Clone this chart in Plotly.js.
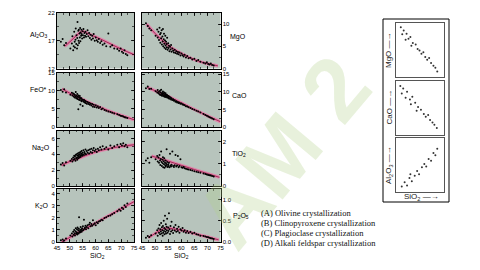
<!DOCTYPE html>
<html>
<head>
<meta charset="utf-8">
<script src="https://cdn.plot.ly/plotly-3.0.1.min.js"></script>
<style>html,body{margin:0;padding:0;background:#fff;}#chart{width:480px;height:270px;}</style>
</head>
<body>
<div id="chart"></div>
<script>
// ---- Sample data (SiO2 shared by all oxides, wt%) ----
const sio2 = [46.5,47.2,47.8,48.5,
  50.2,50.8,51.0,51.3,51.5,51.7,51.9,52.0,52.2,52.3,52.5,52.6,52.8,52.9,53.0,53.1,53.3,53.4,53.5,53.6,53.8,53.9,54.0,54.1,54.2,54.4,54.5,54.6,54.8,55.0,55.1,55.3,55.5,55.7,55.9,56.1,56.3,56.6,56.9,
  57.2,57.5,57.8,58.1,58.4,58.7,59.0,59.3,59.7,60.1,60.5,60.9,61.3,61.8,62.3,62.8,
  63.5,64.2,65.0,65.8,66.5,67.3,
  68.5,69.2,69.8,70.3,70.8,71.3,71.8,72.4];
const al2o3 = [16.8,17.3,16.2,16.6,
  15.6,16.5,17.8,15.3,16.0,18.6,16.8,15.8,17.2,19.2,16.4,18.0,15.6,17.5,20.4,16.2,18.8,17.0,19.0,16.6,18.3,17.6,19.3,16.9,18.5,17.9,19.0,18.2,17.4,18.7,18.0,19.1,17.6,18.4,17.9,18.6,17.7,18.2,18.9,
  17.8,18.4,17.5,18.1,17.2,17.9,17.4,18.2,17.0,17.6,17.1,16.8,17.3,16.6,16.9,16.3,
  16.5,16.0,18.3,15.9,16.2,15.6,
  15.5,15.2,15.6,15.0,14.8,15.3,14.6,14.4];
const mgo = [10.2,9.6,9.0,8.6,
  7.4,8.8,7.0,8.3,6.4,9.2,7.7,5.8,8.0,6.8,8.6,5.4,7.2,6.1,8.9,5.0,6.6,7.8,5.6,4.7,6.3,7.4,5.2,4.4,6.0,5.5,4.8,6.9,4.2,5.7,4.6,5.1,3.9,4.9,4.3,5.3,3.8,4.5,4.0,
  3.6,4.2,3.5,3.9,3.3,3.7,3.2,3.6,2.9,3.4,3.0,2.7,3.1,2.5,2.8,2.3,
  2.4,2.0,2.2,1.7,1.9,1.5,
  1.3,1.1,1.4,1.0,0.9,1.1,0.8,0.7];
const feo = [10.2,9.7,10.4,9.5,
  8.9,9.4,8.7,9.2,8.4,9.0,8.1,8.8,8.3,9.6,7.9,8.6,8.0,9.1,7.7,8.4,4.9,8.7,7.6,8.2,7.4,8.5,7.8,6.2,8.0,7.3,7.9,7.1,7.6,5.8,7.4,7.0,7.5,6.8,7.2,6.6,7.0,6.4,6.9,
  6.3,6.7,6.1,6.5,5.9,6.3,5.6,6.1,5.5,6.0,5.4,5.7,5.2,5.5,4.9,5.1,
  4.7,4.5,4.3,4.1,3.9,3.7,
  3.5,3.3,3.1,3.0,2.9,2.7,2.6,2.5];
const cao = [11.0,11.5,10.8,10.9,
  10.2,9.8,10.5,9.6,10.0,9.3,10.3,9.1,9.8,10.6,9.4,8.9,9.7,9.2,10.1,8.8,9.5,9.0,9.8,8.6,9.3,8.9,9.6,8.5,9.1,8.7,9.2,8.4,8.9,8.3,8.8,8.1,8.6,8.0,8.4,7.8,8.2,7.7,7.9,
  7.5,7.6,7.2,7.3,7.0,7.1,6.8,6.9,6.6,6.7,6.4,6.3,6.2,5.9,5.8,5.6,
  5.4,5.1,4.9,4.6,4.4,4.1,
  3.7,3.4,3.2,3.0,2.8,2.6,2.4,2.2];
const na2o = [2.7,2.9,2.6,3.0,
  3.2,3.4,3.1,3.6,3.3,3.8,3.4,3.7,3.2,3.9,3.5,4.0,3.6,3.3,3.8,4.1,3.5,3.9,3.7,4.2,3.6,4.0,3.8,4.3,3.7,4.1,3.9,4.4,3.8,4.2,4.0,4.5,3.9,4.3,4.1,4.6,4.0,4.4,4.2,
  4.5,4.1,4.6,4.3,4.7,4.2,4.5,4.8,4.4,4.6,4.3,4.7,4.5,4.9,4.6,5.0,
  4.7,4.9,4.6,5.1,4.8,5.0,
  5.2,4.9,5.3,5.1,5.4,5.0,5.2,4.9];
const tio2 = [1.15,1.25,1.05,1.30,
  1.20,1.35,1.10,1.28,1.05,1.40,1.15,0.95,1.22,1.55,1.08,0.90,1.18,1.02,1.30,0.85,1.12,0.98,1.25,0.82,1.05,0.92,1.15,0.88,1.00,1.65,0.95,1.08,0.86,0.98,0.90,1.05,0.84,1.45,0.92,0.88,0.96,1.55,0.90,
  0.86,0.94,1.40,0.88,0.92,1.35,0.85,0.90,1.20,0.84,0.82,0.86,0.80,0.78,0.76,0.74,
  0.72,0.70,0.67,0.64,0.62,0.60,
  0.56,0.54,0.52,0.50,0.48,0.47,0.45,0.43];
const k2o = [0.15,0.20,0.12,0.30,
  0.55,0.70,0.45,0.85,0.60,1.00,0.72,0.55,0.90,1.15,0.68,0.80,1.05,0.62,1.20,0.75,0.95,0.70,1.10,2.05,0.88,0.78,1.00,0.82,1.25,0.92,1.05,0.85,1.15,0.95,1.30,1.00,1.85,1.10,1.20,1.35,1.05,1.25,1.40,
  1.15,1.45,1.60,1.30,1.50,1.35,1.80,1.45,1.55,1.40,1.65,1.55,1.70,1.75,1.85,1.80,
  2.00,2.05,2.15,2.20,2.30,2.40,
  2.55,2.70,2.60,2.85,2.75,3.05,2.90,3.20];
const p2o5 = [0.10,0.14,0.12,0.16,
  0.20,0.28,0.15,0.32,0.22,0.40,0.18,0.30,0.25,0.45,0.20,0.35,0.28,0.15,0.38,0.22,0.50,0.26,0.33,0.18,0.62,0.30,0.24,0.42,0.20,0.36,0.28,0.55,0.22,0.34,0.26,0.68,0.30,0.19,0.38,0.25,0.48,0.28,0.21,
  0.35,0.27,0.40,0.24,0.31,0.26,0.36,0.22,0.30,0.27,0.33,0.24,0.28,0.22,0.26,0.21,
  0.24,0.20,0.22,0.18,0.17,0.15,
  0.14,0.13,0.12,0.11,0.10,0.09,0.08,0.07];

// ---- Fractionation trend curves ----
const al2o3TrendX = [48,50,52,54,55,58,62,66,70,75];
const al2o3TrendY = [16.0,16.8,17.7,18.5,18.7,18.1,17.3,16.4,15.5,14.5];
const mgoTrendX = [46.8,50,55,60,65,70,74];
const mgoTrendY = [10.0,7.9,5.2,3.4,2.0,1.1,0.6];
const feoTrendX = [47,50,55,60,65,70,75];
const feoTrendY = [10.5,9.3,7.6,5.9,4.5,3.2,2.0];
const caoTrendX = [47,50,55,60,65,70,75];
const caoTrendY = [11.3,10.3,8.7,6.9,5.0,3.2,1.5];
const na2oTrendX = [46.8,50,55,60,65,70,75];
const na2oTrendY = [2.6,3.1,3.7,4.3,4.7,5.0,5.2];
const tio2TrendX = [48.7,55,60,65,70,74.6];
const tio2TrendY = [1.35,1.12,0.93,0.74,0.56,0.39];
const k2oTrendX = [46.8,50,55,60,65,70,75];
const k2oTrendY = [0,0.38,0.98,1.57,2.17,2.76,3.35];
const p2o5TrendX = [47.4,50,52,54.5,57,60,65,70,74.3];
const p2o5TrendY = [0.10,0.20,0.28,0.33,0.31,0.28,0.20,0.12,0.05];

// ---- Inset schematic data ----
const insetMgOX = [1.0,1.6,1.3,2.2,2.6,2.0,3.0,3.5,3.2,4.1,4.5,4.9,5.3,5.7,6.1,6.5,6.9,7.3,7.8,8.2,8.6];
const insetMgOY = [9.2,8.6,7.9,8.0,7.1,6.9,7.4,6.3,5.8,6.0,5.2,4.9,4.3,4.6,3.7,3.2,3.5,2.6,2.1,1.7,1.0];
const insetCaOX = [0.9,1.5,1.2,2.3,2.0,2.9,3.4,3.1,4.0,4.6,4.3,5.2,5.8,6.2,6.7,7.1,7.6,8.0,8.5];
const insetCaOY = [9.0,8.5,7.6,7.9,6.8,6.5,7.0,5.6,5.9,5.1,4.4,4.6,3.8,3.3,3.6,2.7,2.2,1.8,1.2];
const insetAlX = [1.2,1.8,2.3,2.8,3.3,3.0,3.9,4.4,4.8,5.4,5.9,6.3,6.8,7.3,7.8,8.2,8.6];
const insetAlY = [1.0,1.8,1.2,2.6,2.0,3.3,3.0,3.9,3.3,4.6,5.2,4.7,6.1,5.8,7.2,6.8,8.0];

const xTicks = [45,50,55,60,65,70,75];
const options = [
  "(A) Olivine crystallization",
  "(B) Clinopyroxene crystallization",
  "(C) Plagioclase crystallization",
  "(D) Alkali feldspar crystallization"
];

// ---- Layout helpers ----
const W = 480, H = 270;
const PX = x => x / W;
const PY = y => 1 - y / H;
const cols = [[57,134],[142,220.5]];
const rows = [[13,68.5],[72.5,127],[130.5,186],[189,242]];
const FONT = "Liberation Sans, Arial, sans-serif";

const panels = [
  {y: al2o3, tx: al2o3TrendX, ty: al2o3TrendY, c:0, r:0, range:[12,22], tv:[12,17,22], mt0:12, md:2.5, title:"Al<sub>2</sub>O<sub>3</sub>", tpos:[38,35]},
  {y: mgo, tx: mgoTrendX, ty: mgoTrendY, c:1, r:0, range:[0,12.5], tv:[0,5,10], mt0:0, md:2.5, title:"MgO", tpos:[238,37]},
  {y: feo, tx: feoTrendX, ty: feoTrendY, c:0, r:1, range:[0,15], tv:[0,5,10,15], mt0:0, md:2.5, title:"FeO*", tpos:[38,89]},
  {y: cao, tx: caoTrendX, ty: caoTrendY, c:1, r:1, range:[0,15.5], tv:[0,5,10,15], mt0:0, md:2.5, title:"CaO", tpos:[239,95]},
  {y: na2o, tx: na2oTrendX, ty: na2oTrendY, c:0, r:2, range:[0,7], tv:[0,2,4,6], mt0:0, md:1, title:"Na<sub>2</sub>O", tpos:[41,148]},
  {y: tio2, tx: tio2TrendX, ty: tio2TrendY, c:1, r:2, range:[0,2.5], tv:[0,1,2], mt0:0, md:0.5, title:"TiO<sub>2</sub>", tpos:[239,154]},
  {y: k2o, tx: k2oTrendX, ty: k2oTrendY, c:0, r:3, range:[0,4.4], tv:[0,1,2,3,4], mt0:0, md:0.5, title:"K<sub>2</sub>O", tpos:[41,206]},
  {y: p2o5, tx: p2o5TrendX, ty: p2o5TrendY, c:1, r:3, range:[0,1.25], tv:[0,0.5,1], tt:["0.0","0.5","1.0"], mt0:0, md:0.25, title:"P<sub>2</sub>O<sub>5</sub>", tpos:[241,216]}
];

const data = [];
const layout = {
  width: W, height: H, autosize: false,
  margin: {l:0, r:0, t:0, b:0, pad:0},
  paper_bgcolor: "#ffffff", plot_bgcolor: "#ffffff",
  showlegend: false,
  font: {family: FONT, size: 6, color: "#000"},
  shapes: [], annotations: []
};

function note(text, x, y, font, extra) {
  return Object.assign({text: text, x: PX(x), y: PY(y), xref: "paper", yref: "paper",
    showarrow: false, xanchor: "center", yanchor: "middle", font: font}, extra || {});
}

// ---- Watermark (drawn first so other texts sit above it) ----
layout.annotations.push(note("<b>AM 2</b>", 282, 152,
  {size: 90, family: FONT, color: "rgba(180,210,140,0.3)"}, {textangle: -50}));

panels.forEach((p, i) => {
  const n = i + 1;
  const xa = "x" + n, ya = "y" + n;
  data.push({x: p.tx, y: p.ty, xaxis: xa, yaxis: ya, mode: "lines", type: "scatter",
    line: {color: "rgba(226,128,168,0.9)", width: 3.2, shape: "spline"}, hoverinfo: "skip"});
  data.push({x: p.tx, y: p.ty, xaxis: xa, yaxis: ya, mode: "lines", type: "scatter",
    line: {color: "#9a1f4c", width: 0.9, shape: "spline"}, hoverinfo: "skip"});
  data.push({x: sio2, y: p.y, xaxis: xa, yaxis: ya, mode: "markers", type: "scatter",
    marker: {size: 2, color: "#000"}});
  const col = cols[p.c], row = rows[p.r];
  layout["xaxis" + n] = {
    domain: [PX(col[0]), PX(col[1])], anchor: ya, range: [45,75],
    tickvals: xTicks, ticks: "inside", ticklen: 3, tickwidth: 0.8, tickcolor: "#000",
    showticklabels: p.r === 3, tickfont: {size: 6, family: FONT},
    minor: {ticks: "inside", ticklen: 1.8, tick0: 45, dtick: 2.5, tickcolor: "#000", tickwidth: 0.6},
    showline: true, mirror: "ticks", linecolor: "#000", linewidth: 1,
    showgrid: false, zeroline: false, fixedrange: true
  };
  const yax = {
    domain: [PY(row[1]), PY(row[0])], anchor: xa, range: p.range,
    tickvals: p.tv, ticks: "inside", ticklen: 3, tickwidth: 0.8, tickcolor: "#000",
    side: p.c === 0 ? "left" : "right", tickfont: {size: 6, family: FONT},
    minor: {ticks: "inside", ticklen: 1.8, tick0: p.mt0, dtick: p.md, tickcolor: "#000", tickwidth: 0.6},
    showline: true, mirror: "ticks", linecolor: "#000", linewidth: 1,
    showgrid: false, zeroline: false, fixedrange: true
  };
  if (p.tt) yax.ticktext = p.tt;
  layout["yaxis" + n] = yax;
  layout.shapes.push({type: "rect", xref: xa + " domain", yref: ya + " domain",
    x0: 0, x1: 1, y0: 0, y1: 1, layer: "below", fillcolor: "#b7c4bc", line: {width: 0}});
  layout.annotations.push(note(p.title, p.tpos[0], p.tpos[1], {size: 7, family: FONT, color: "#000"}));
});

// SiO2 x-axis labels
[[97,256],[181,256]].forEach(pos => {
  layout.annotations.push(note("SiO<sub>2</sub>", pos[0], pos[1], {size: 7, family: FONT, color: "#000"}));
});

// ---- Inset schematic panels ----
const insetRows = [[23,77],[80.5,134.5],[138,192]];
const insetSets = [
  {x: insetMgOX, y: insetMgOY, label: "MgO \u2014\u2192"},
  {x: insetCaOX, y: insetCaOY, label: "CaO \u2014\u2192"},
  {x: insetAlX, y: insetAlY, label: "Al<sub>2</sub>O<sub>3</sub> \u2014\u2192"}
];
insetSets.forEach((s, k) => {
  const n = 9 + k;
  const xa = "x" + n, ya = "y" + n;
  data.push({x: s.x, y: s.y, xaxis: xa, yaxis: ya, mode: "markers", type: "scatter",
    marker: {size: 2, color: "#333"}});
  const row = insetRows[k];
  layout["xaxis" + n] = {domain: [PX(396), PX(444)], anchor: ya, range: [0,10],
    showticklabels: false, ticks: "", showgrid: false, zeroline: false,
    showline: true, mirror: true, linecolor: "#555", linewidth: 1, fixedrange: true};
  layout["yaxis" + n] = {domain: [PY(row[1]), PY(row[0])], anchor: xa, range: [0,10],
    showticklabels: false, ticks: "", showgrid: false, zeroline: false,
    showline: true, mirror: true, linecolor: "#555", linewidth: 1, fixedrange: true};
  layout.annotations.push(note(s.label, 389, (row[0] + row[1]) / 2,
    {size: 8, family: FONT, color: "#222"}, {textangle: -90}));
});
layout.shapes.push({type: "rect", xref: "paper", yref: "paper",
  x0: PX(383), x1: PX(449), y0: PY(202), y1: PY(19), line: {color: "#000", width: 1}, fillcolor: "rgba(0,0,0,0)"});
layout.annotations.push(note("SiO<sub>2</sub> \u2014\u2192", 421, 197, {size: 8, family: FONT, color: "#222"}));

// ---- Answer options ----
options.forEach((t, k) => {
  layout.annotations.push(note(t, 259, 213 + 10 * k,
    {size: 8.5, family: "Liberation Serif, Times New Roman, serif", color: "#111"}, {xanchor: "left"}));
});

Plotly.newPlot("chart", data, layout, {staticPlot: true, displayModeBar: false});
</script>
</body>
</html>
